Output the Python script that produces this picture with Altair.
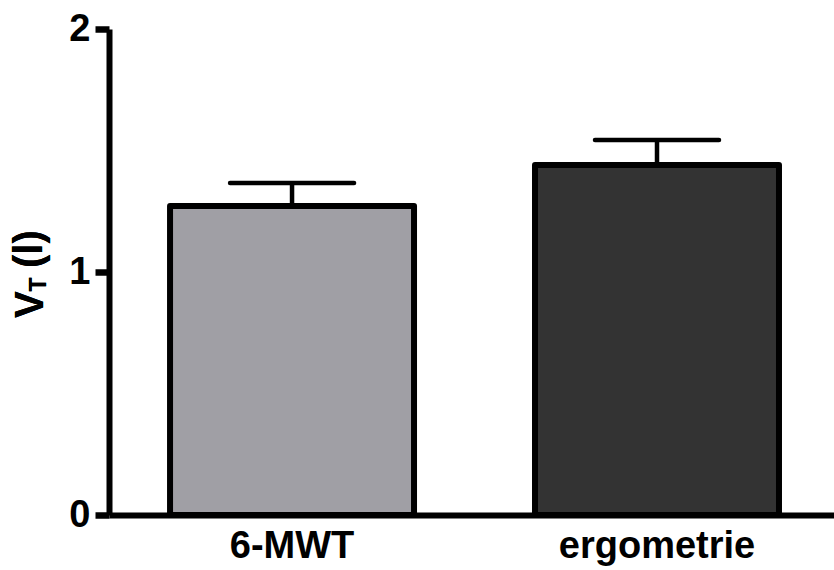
import altair as alt
import pandas as pd

# Tidal volume by test type
groups = ["6-MWT", "ergometrie"]
means = [1.272, 1.440]
errors = [0.094, 0.103]
fills = ["#A09FA5", "#333333"]
y_ticks = [0, 1, 2]

df = pd.DataFrame({
    "group": groups,
    "mean": means,
    "upper": [m + e for m, e in zip(means, errors)],
    "fill": fills,
})

FONT = "Liberation Sans"
LABEL_SIZE = 38

x_scale = alt.Scale(domain=groups, paddingInner=0.3315, paddingOuter=0.159, align=0.526)
y_scale = alt.Scale(domain=[0, 2], nice=False, zero=True)

base = alt.Chart(df)

bars = base.mark_bar(stroke="black", strokeWidth=6, strokeJoin="round").encode(
    x=alt.X("group:N", scale=x_scale, sort=groups,
            axis=alt.Axis(title=None, labelAngle=0, ticks=False, domainWidth=6,
                          domainColor="black", labelFont=FONT, labelFontSize=LABEL_SIZE,
                          labelFontWeight="bold", labelColor="black", labelPadding=12,
                          labelLimit=0)),
    y=alt.Y("mean:Q", scale=y_scale,
            axis=alt.Axis(title=None, values=y_ticks, tickCount=3, grid=False,
                          labelExpr="'' + datum.value",
                          domainWidth=6, domainColor="black",
                          tickWidth=6.5, tickSize=14, tickColor="black",
                          labelFont=FONT, labelFontSize=LABEL_SIZE, labelFontWeight="bold",
                          labelColor="black", labelPadding=5, labelLimit=0)),
    fill=alt.Fill("fill:N", scale=None),
)

stems = base.mark_rule(color="black", strokeWidth=4.5).encode(
    x=alt.X("group:N", scale=x_scale, sort=groups, bandPosition=0.5),
    y="mean:Q",
    y2="upper:Q",
)

caps = base.mark_rule(color="black", strokeWidth=4.5, strokeCap="round",
                      xOffset=-62, x2Offset=62).encode(
    x=alt.X("group:N", scale=x_scale, sort=groups, bandPosition=0.5),
    x2=alt.X2("group:N", bandPosition=0.5),
    y="upper:Q",
)


# y-axis title with subscript: V_T (l), set in pixel space left of the axis
def title_part(txt, px, py, size):
    return alt.Chart(df).mark_text(
        text=txt, angle=270, align="left", baseline="alphabetic", font=FONT,
        fontWeight="bold", color="black", fontSize=size,
    ).encode(x=alt.value(px), y=alt.value(py))


title = alt.layer(
    title_part("V", -66, 289, 40),
    title_part("T", -63, 262.5, 23),
    title_part("(l)", -67, 239, 40),
)

chart = alt.layer(bars, stems, caps, title).properties(
    width=725, height=486,
    autosize=alt.AutoSizeParams(type="none"),
    padding={"left": 109, "top": 29, "right": 0, "bottom": 55},
).configure_view(stroke=None)

chart.save("out.html", embed_options={"renderer": "svg", "actions": False})
